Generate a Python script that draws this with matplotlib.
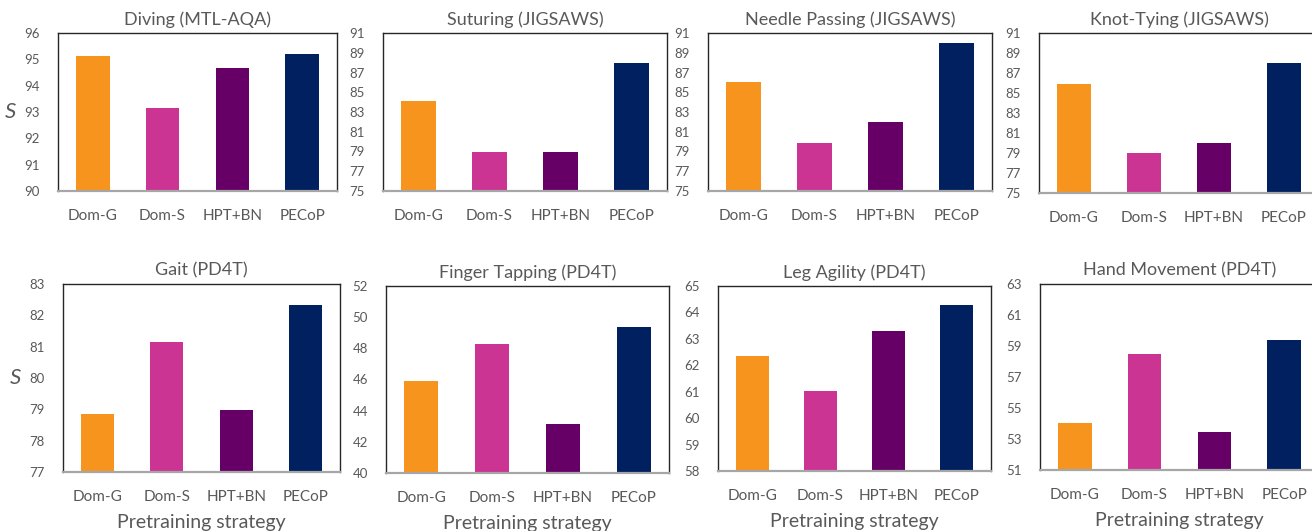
"""
Pretraining strategy comparison: 2x4 grid of bar charts (S score per task).
"""
import matplotlib
matplotlib.use('Agg')
import matplotlib.pyplot as plt
import numpy as np

# Data
categories = ['Dom-G', 'Dom-S', 'HPT+BN', 'PECoP']
bar_colors = ['#F7941E', '#CC3494', '#660066', '#002060']

titles = [
    'Diving (MTL-AQA)', 'Suturing (JIGSAWS)', 'Needle Passing (JIGSAWS)', 'Knot-Tying (JIGSAWS)',
    'Gait (PD4T)', 'Finger Tapping (PD4T)', 'Leg Agility (PD4T)', 'Hand Movement (PD4T)',
]
diving = [95.13, 93.14, 94.68, 95.21]
suturing = [84.1, 79.0, 79.0, 88.0]
needle_passing = [86.0, 79.9, 82.0, 90.0]
knot_tying = [85.9, 79.0, 80.0, 88.0]
gait = [78.86, 81.15, 78.98, 82.33]
finger_tapping = [45.89, 48.27, 43.13, 49.36]
leg_agility = [62.35, 61.02, 63.29, 64.28]
hand_movement = [54.05, 58.48, 53.45, 59.39]

# y-axis ranges: (min, max, step)
y_ranges = [
    (90, 96, 1), (75, 91, 2), (75, 91, 2), (75, 91, 2),
    (77, 83, 1), (40, 52, 2), (58, 65, 1), (51, 63, 2),
]

all_values = [diving, suturing, needle_passing, knot_tying,
              gait, finger_tapping, leg_agility, hand_movement]

# Axes boxes in pixels: (left, top, right, bottom)
W, H = 1312, 531
boxes = [
    (58, 33, 337, 191), (383, 33, 667, 191), (708, 33, 992, 191), (1039, 33, 1319, 193),
    (63, 284, 340, 472), (386, 286, 669, 473), (718, 286, 991, 471), (1040, 284, 1319, 470),
]

TEXT = '#595959'
plt.rcParams['font.family'] = ['Lato', 'DejaVu Sans']

fig = plt.figure(figsize=(W / 100, H / 100), dpi=100)

for i, (title, values, (ymin, ymax, step), box) in enumerate(zip(titles, all_values, y_ranges, boxes)):
    l, t, r, b = box
    ax = fig.add_axes([l / W, 1 - b / H, (r - l) / W, (b - t) / H])

    x = np.arange(len(categories))
    ax.bar(x, values, width=0.48, color=bar_colors, zorder=2)

    ax.set_xlim(-0.5, len(categories) - 0.5)
    ax.set_ylim(ymin, ymax)
    ax.set_yticks(np.arange(ymin, ymax + 0.01, step))
    ax.set_xticks(x)
    ax.set_xticklabels(categories)

    ax.tick_params(axis='both', length=0, colors=TEXT)
    ax.tick_params(axis='x', pad=13, labelsize=11)
    ax.tick_params(axis='y', pad=13, labelsize=9.5)

    # Plot-area border plus gray category axis
    for side in ('left', 'top', 'right'):
        ax.spines[side].set_color('#262626')
        ax.spines[side].set_linewidth(1.0)
    ax.spines['bottom'].set_color('#A6A6A6')
    ax.spines['bottom'].set_linewidth(1.6)

    ax.set_title(title, fontsize=13, color=TEXT, pad=6)

    if i % 4 == 0:
        ax.set_ylabel('S', fontsize=16, color=TEXT, style='italic', rotation=0,
                      labelpad=10, va='center')
    if i >= 4:
        ax.set_xlabel('Pretraining strategy', fontsize=14, color=TEXT, labelpad=7)

plt.savefig('out.png', dpi=100, facecolor='white')
plt.close(fig)
